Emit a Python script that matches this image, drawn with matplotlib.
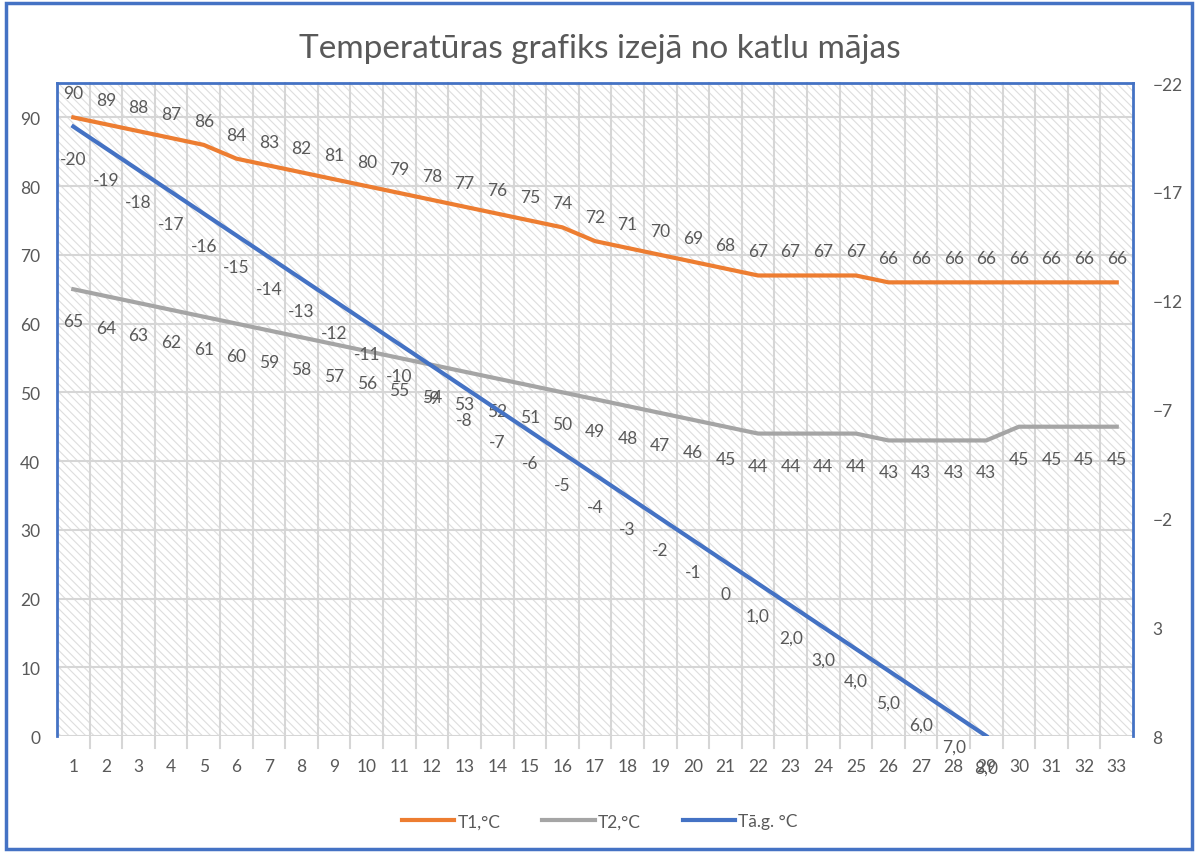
import matplotlib
matplotlib.use("Agg")
import matplotlib.pyplot as plt
from matplotlib.patches import Rectangle
import numpy as np

# data
days = list(range(1, 34))
t1 = [90, 89, 88, 87, 86, 84, 83, 82, 81, 80, 79, 78, 77, 76, 75, 74, 72, 71,
      70, 69, 68, 67, 67, 67, 67, 66, 66, 66, 66, 66, 66, 66, 66]
t2 = [65, 64, 63, 62, 61, 60, 59, 58, 57, 56, 55, 54, 53, 52, 51, 50, 49, 48,
      47, 46, 45, 44, 44, 44, 44, 43, 43, 43, 43, 45, 45, 45, 45]
tag = [-20, -19, -18, -17, -16, -15, -14, -13, -12, -11, -10, -9, -8, -7, -6,
       -5, -4, -3, -2, -1, 0, 1.0, 2.0, 3.0, 4.0, 5.0, 6.0, 7.0, 8.0]
tag_labels = ["-20", "-19", "-18", "-17", "-16", "-15", "-14", "-13", "-12",
              "-11", "-10", "-9", "-8", "-7", "-6", "-5", "-4", "-3", "-2",
              "-1", "0", "1,0", "2,0", "3,0", "4,0", "5,0", "6,0", "7,0", "8,0"]
left_ticks = [0, 10, 20, 30, 40, 50, 60, 70, 80, 90]
right_ticks = [-22, -17, -12, -7, -2, 3, 8]

title = "Temperatūras grafiks izejā no katlu mājas"
names = ["T1,°C", "T2,°C", "Tā.g. °C"]

ORANGE = "#ED7D31"
GRAY = "#A5A5A5"
BLUE = "#4472C4"
TXT = "#595959"
GRID = "#D6D6D6"

plt.rcParams["font.family"] = ["Lato", "DejaVu Sans"]
plt.rcParams["hatch.linewidth"] = 0.8

fig = plt.figure(figsize=(12, 8.54), dpi=100)
ax = fig.add_axes([0.0475, 0.137, 0.8967, 0.7646])
ax2 = ax.twinx()

# hatched plot-area background
ax.patch.set_visible(False)
bg = Rectangle((0, 0), 1, 1, transform=ax.transAxes, facecolor="white",
               edgecolor="#DEDEDE", linewidth=0, hatch="\\\\\\\\", zorder=-5)
ax.add_patch(bg)
ax.set_zorder(0)
ax2.set_zorder(1)

ax.set_xlim(0.5, 33.5)
ax.set_ylim(0, 95)
ax2.set_ylim(8, -22)

# grid lines (vertical at category boundaries, running a bit below the axis)
for b in np.arange(1.5, 33.5, 1):
    ax.plot([b, b], [-1.8, 95], color=GRID, lw=1.5, zorder=-1, clip_on=False)
for v in left_ticks:
    ax.axhline(v, color=GRID, lw=1.5, zorder=-1)

l1, = ax.plot(days, t1, color=ORANGE, lw=3, zorder=3)
l2, = ax.plot(days, t2, color=GRAY, lw=3, zorder=3)
l3, = ax2.plot(days[:len(tag)], tag, color=BLUE, lw=3, zorder=3)

lab_fs = 12.5
for x, v in zip(days, t1):
    ax.annotate(str(v), (x, v), xytext=(0, 24), textcoords="offset pixels",
                ha="center", va="center", fontsize=lab_fs, color=TXT)
for x, v in zip(days, t2):
    ax.annotate(str(v), (x, v), xytext=(0, -32), textcoords="offset pixels",
                ha="center", va="center", fontsize=lab_fs, color=TXT)
for x, v, s in zip(days, tag, tag_labels):
    ax2.annotate(s, (x, v), xytext=(0, -32), textcoords="offset pixels",
                 ha="center", va="center", fontsize=lab_fs, color=TXT,
                 annotation_clip=False)

ax.set_xticks(days)
ax.set_xticklabels([str(d) for d in days])
ax.set_yticks(left_ticks)
ax2.set_yticks(right_ticks)
ax.tick_params(axis="x", length=0, pad=16, labelsize=12.5, colors=TXT)
ax.tick_params(axis="y", length=0, pad=12, labelsize=12.5, colors=TXT)
ax2.tick_params(axis="y", length=0, pad=14, labelsize=12.5, colors=TXT)

for a in (ax, ax2):
    for side in ("top", "bottom", "left", "right"):
        a.spines[side].set_visible(False)
for sp in (ax.spines["left"], ax.spines["top"], ax2.spines["right"]):
    sp.set_visible(True)
    sp.set_color(BLUE)
    sp.set_linewidth(2)

fig.text(0.5, 0.943, title, ha="center", va="center", fontsize=24, color=TXT)

fig.legend([l1, l2, l3], names, loc="center", bbox_to_anchor=(0.5, 0.037),
           ncol=3, frameon=False, fontsize=12.5, labelcolor=TXT,
           handlelength=3.0, handletextpad=0.2, columnspacing=2.4)

# outer chart border
fig.patches.append(Rectangle((0.005, 0.005), 0.988, 0.99, transform=fig.transFigure,
                             fill=False, edgecolor=BLUE, linewidth=2.5))

fig.savefig("out.png", dpi=100)
